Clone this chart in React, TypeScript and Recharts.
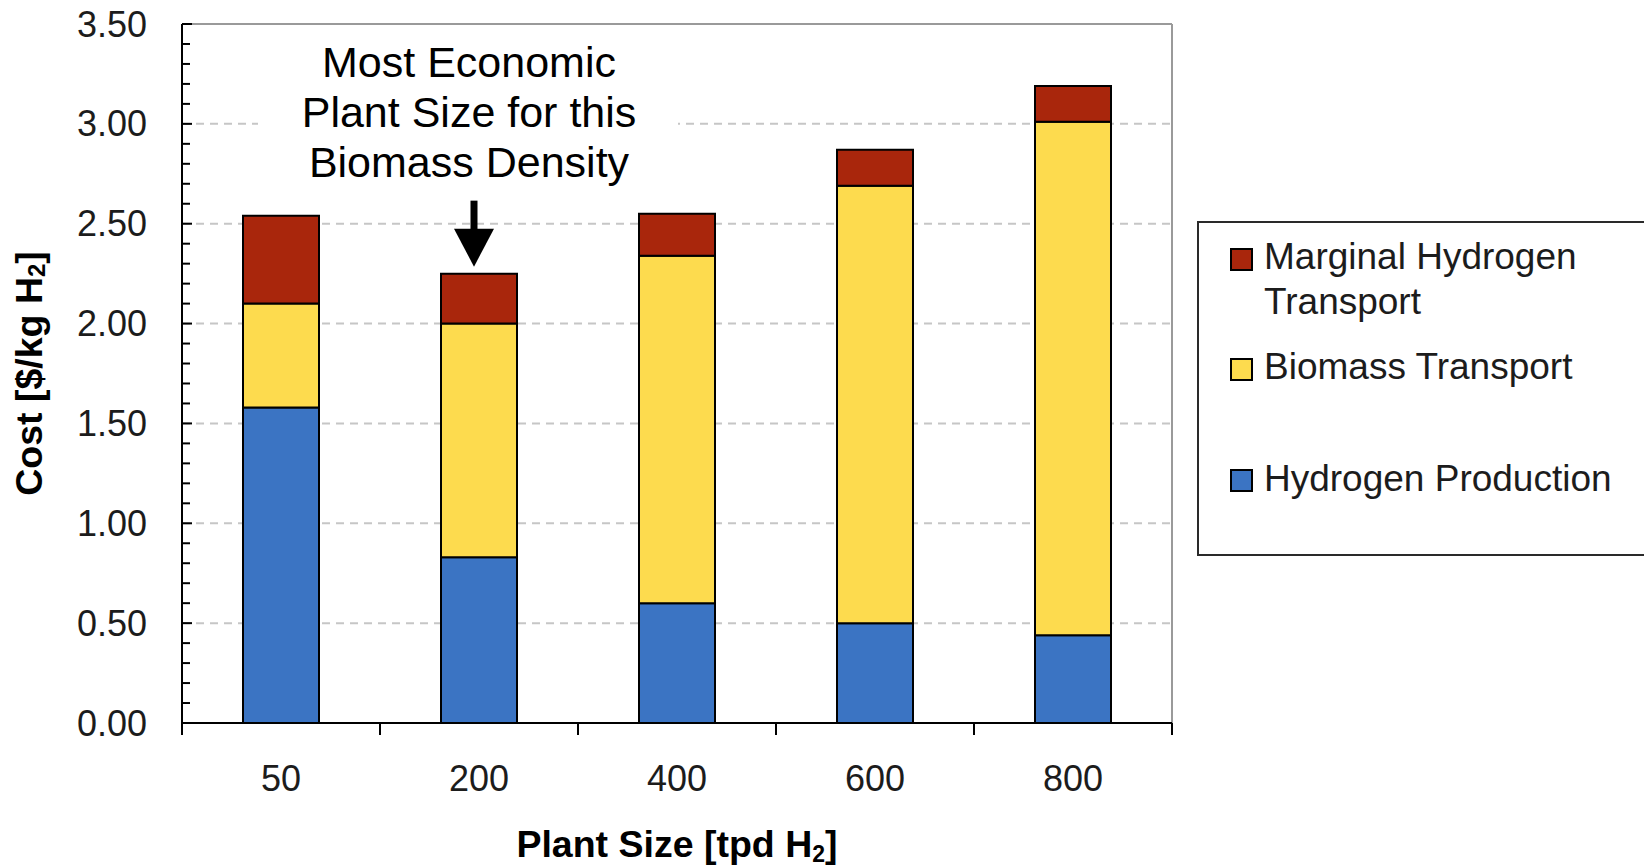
import React from 'react';
import { BarChart, Bar, XAxis, YAxis, CartesianGrid, Legend, ReferenceDot } from 'recharts';

// Plant size categories (tonnes per day of H2)
const plantSizes = ['50', '200', '400', '600', '800'];

// Cost components, $/kg H2
const hydrogenProduction = [1.58, 0.83, 0.6, 0.5, 0.44];
const biomassTransport = [0.52, 1.17, 1.74, 2.19, 2.57];
const marginalH2Transport = [0.44, 0.25, 0.21, 0.18, 0.18];

// Y axis: minor tick every 0.1, labelled major tick every 0.5
const yMinorTicks = [
  0, 0.1, 0.2, 0.3, 0.4, 0.5, 0.6, 0.7, 0.8, 0.9,
  1, 1.1, 1.2, 1.3, 1.4, 1.5, 1.6, 1.7, 1.8, 1.9,
  2, 2.1, 2.2, 2.3, 2.4, 2.5, 2.6, 2.7, 2.8, 2.9,
  3, 3.1, 3.2, 3.3, 3.4, 3.5,
];
const yMajorValues = [0, 0.5, 1, 1.5, 2, 2.5, 3, 3.5];
const yMajorLabels = ['0.00', '0.50', '1.00', '1.50', '2.00', '2.50', '3.00', '3.50'];
const gridValues = [0.5, 1, 1.5, 2, 2.5, 3];

const calloutLines = ['Most Economic', 'Plant Size for this', 'Biomass Density'];
const calloutCategory = '200';

const SERIES = [
  { key: 'production', name: 'Hydrogen Production', color: '#3B74C3', values: hydrogenProduction },
  { key: 'biomass', name: 'Biomass Transport', color: '#FDDB4E', values: biomassTransport },
  { key: 'marginal', name: 'Marginal Hydrogen Transport', color: '#A9260C', values: marginalH2Transport },
];

const data = plantSizes.map((size, i) => ({
  size,
  production: hydrogenProduction[i],
  biomass: biomassTransport[i],
  marginal: marginalH2Transport[i],
}));

const calloutIndex = plantSizes.indexOf(calloutCategory);
const calloutTotal =
  hydrogenProduction[calloutIndex] + biomassTransport[calloutIndex] + marginalH2Transport[calloutIndex];

const FONT = '"Liberation Sans", Arial, Helvetica, sans-serif';
const TEXT = '#1c1c1c';

const CHART_W = 1644;
const CHART_H = 868;
const MARGIN = { top: 24, right: 472, bottom: 85, left: 82 };
const Y_AXIS_W = 100;
const X_AXIS_H = 60;
const PLOT_W = CHART_W - MARGIN.left - Y_AXIS_W - MARGIN.right;
const BAND = PLOT_W / plantSizes.length;

const YTick = (props: any) => {
  const { x, y, payload } = props;
  const idx = yMajorValues.findIndex((v) => Math.abs(v - payload.value) < 1e-6);
  const major = idx >= 0;
  return (
    <g>
      <line x1={x} x2={x + (major ? 10 : 8)} y1={y} y2={y} stroke="#000" strokeWidth={2} />
      {major && (
        <text
          x={x - 35}
          y={y}
          textAnchor="end"
          dominantBaseline="central"
          fontFamily={FONT}
          fontSize={36}
          fill={TEXT}
        >
          {yMajorLabels[idx]}
        </text>
      )}
    </g>
  );
};

const XTick = (props: any) => {
  const { x, y, payload, index } = props;
  const left = x - BAND / 2;
  const right = x + BAND / 2;
  return (
    <g>
      <line x1={left} x2={left} y1={y} y2={y + 12} stroke="#000" strokeWidth={2} />
      {index === plantSizes.length - 1 && (
        <line x1={right} x2={right} y1={y} y2={y + 12} stroke="#000" strokeWidth={2} />
      )}
      <text x={x} y={y + 68} textAnchor="middle" fontFamily={FONT} fontSize={36} fill={TEXT}>
        {payload.value}
      </text>
    </g>
  );
};

const YTitle = (props: any) => {
  const vb = props.viewBox || { x: MARGIN.left, y: MARGIN.top, width: Y_AXIS_W, height: 700 };
  const cx = vb.x - 53;
  const cy = vb.y + vb.height / 2;
  return (
    <text
      transform={`translate(${cx},${cy}) rotate(-90)`}
      textAnchor="middle"
      dominantBaseline="central"
      fontFamily={FONT}
      fontWeight="bold"
      fontSize={37.5}
      fill="#000"
    >
      Cost [$/kg H
      <tspan fontSize={24} dy={7}>2</tspan>
      <tspan dy={-7}>]</tspan>
    </text>
  );
};

const XTitle = (props: any) => {
  const vb = props.viewBox || { x: 182, y: 723, width: PLOT_W, height: X_AXIS_H };
  const cx = vb.x + vb.width / 2;
  return (
    <text
      x={cx}
      y={vb.y + 134}
      textAnchor="middle"
      fontFamily={FONT}
      fontWeight="bold"
      fontSize={37.5}
      fill="#000"
    >
      Plant Size [tpd H
      <tspan fontSize={23} dy={5}>2</tspan>
      <tspan dy={-5}>]</tspan>
    </text>
  );
};

// Text box and arrow pointing at the cheapest plant size
const Callout = (props: any) => {
  const { cx, cy } = props;
  if (cx == null || cy == null) return null;
  const ax = cx - 5;
  const tip = cy - 7;
  return (
    <g>
      <rect x={cx - 221} y={cy - 247} width={420} height={172} fill="#fff" />
      {calloutLines.map((line, i) => (
        <text
          key={line}
          x={cx - 10}
          y={cy - 196.6 + i * 50}
          textAnchor="middle"
          fontFamily={FONT}
          fontSize={43}
          fill="#000"
        >
          {line}
        </text>
      ))}
      <rect x={ax - 3.5} y={cy - 73} width={7} height={30} fill="#000" />
      <polygon points={`${ax - 20},${cy - 45} ${ax + 20},${cy - 45} ${ax},${tip}`} fill="#000" />
    </g>
  );
};

const LEGEND_SLOTS: Record<string, { swatchTop: number; textTop: number }> = {
  marginal: { swatchTop: 27, textTop: 13 },
  biomass: { swatchTop: 137, textTop: 123 },
  production: { swatchTop: 248, textTop: 235 },
};

const LegendBox = (props: any) => {
  const payload = props.payload || [];
  return (
    <div
      style={{
        position: 'relative',
        width: 470,
        height: 335,
        boxSizing: 'border-box',
        border: '2px solid #2a2a2a',
        background: '#fff',
        fontFamily: FONT,
      }}
    >
      {payload.map((entry: any) => {
        const slot = LEGEND_SLOTS[entry.dataKey];
        if (!slot) return null;
        return (
          <React.Fragment key={entry.dataKey}>
            <div
              style={{
                position: 'absolute',
                left: 31,
                top: slot.swatchTop - 2,
                width: 23,
                height: 23,
                boxSizing: 'border-box',
                border: '2px solid #000',
                background: entry.color,
              }}
            />
            <div
              style={{
                position: 'absolute',
                left: 65,
                top: slot.textTop - 2,
                width: 375,
                fontSize: 37,
                lineHeight: '45px',
                color: TEXT,
              }}
            >
              {entry.value}
            </div>
          </React.Fragment>
        );
      })}
    </div>
  );
};

export default function App() {
  return (
    <div
      style={{
        position: 'absolute',
        left: 0,
        top: 0,
        width: CHART_W,
        height: CHART_H,
        background: '#fff',
        overflow: 'hidden',
      }}
    >
      <BarChart width={CHART_W} height={CHART_H} data={data} margin={MARGIN} barSize={76}>
        <CartesianGrid
          vertical={false}
          horizontalValues={gridValues}
          stroke="#c6c6c6"
          strokeWidth={2}
          strokeDasharray="8 6"
        />
        <CartesianGrid
          horizontalCoordinatesGenerator={({ offset }: any) => [offset.top]}
          verticalCoordinatesGenerator={({ offset }: any) => [offset.left + offset.width]}
          stroke="#9a9a9a"
          strokeWidth={2}
        />
        <XAxis
          dataKey="size"
          type="category"
          height={X_AXIS_H}
          interval={0}
          tickLine={false}
          tickSize={0}
          tickMargin={0}
          axisLine={{ stroke: '#000', strokeWidth: 2 }}
          tick={<XTick />}
          label={{ content: <XTitle /> }}
        />
        <YAxis
          type="number"
          domain={[0, 3.5]}
          ticks={yMinorTicks}
          interval={0}
          width={Y_AXIS_W}
          tickLine={false}
          tickSize={0}
          tickMargin={0}
          axisLine={{ stroke: '#000', strokeWidth: 2 }}
          tick={<YTick />}
          label={{ content: <YTitle /> }}
        />
        {SERIES.map((s) => (
          <Bar
            key={s.key}
            dataKey={s.key}
            name={s.name}
            stackId="cost"
            fill={s.color}
            stroke="#000"
            strokeWidth={2}
            isAnimationActive={false}
          />
        ))}
        <ReferenceDot
          x={calloutCategory}
          y={calloutTotal}
          r={0}
          shape={<Callout />}
          ifOverflow="visible"
        />
        <Legend
          layout="vertical"
          align="center"
          verticalAlign="middle"
          content={<LegendBox />}
          wrapperStyle={{ position: 'absolute', left: 1197, top: 221, width: 470, height: 335 }}
        />
      </BarChart>
    </div>
  );
}
